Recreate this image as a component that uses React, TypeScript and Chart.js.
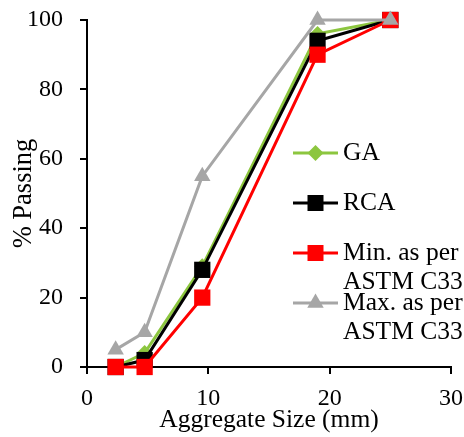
import React, { useEffect, useRef } from "react";
import { Chart, registerables } from "chart.js";

Chart.register(...registerables);

const sieveSizes = [2.36, 4.75, 9.5, 19, 25];
const gaValues = [0, 4, 29, 96, 100];
const rcaValues = [0, 2, 28, 94, 100];
const minValues = [0, 0, 20, 90, 100];
const maxValues = [5, 10, 55, 100, 100];
const seriesNames = ["GA", "RCA", "Min. as per\nASTM C33", "Max. as per\nASTM C33"];

const FONT = "'Liberation Serif', 'Times New Roman', serif";
const GREEN = "#8CC63F";
const GRAY = "#A6A6A6";

function toXY(values: number[]) {
  return sieveSizes.map((x, i) => ({ x, y: values[i] }));
}

function drawMarker(ctx: CanvasRenderingContext2D, style: string, x: number, y: number, color: string) {
  ctx.fillStyle = color;
  ctx.beginPath();
  if (style === "rectRot") {
    const r = 8;
    ctx.moveTo(x, y - r);
    ctx.lineTo(x + r, y);
    ctx.lineTo(x, y + r);
    ctx.lineTo(x - r, y);
    ctx.closePath();
  } else if (style === "rect") {
    const s = 8;
    ctx.rect(x - s, y - s, 2 * s, 2 * s);
  } else {
    const r = 9.5;
    ctx.moveTo(x, y - r);
    ctx.lineTo(x + r * 0.866, y + r / 2);
    ctx.lineTo(x - r * 0.866, y + r / 2);
    ctx.closePath();
  }
  ctx.fill();
}

const legendPlugin = {
  id: "customLegend",
  afterDraw(chart: any) {
    const ctx: CanvasRenderingContext2D = chart.ctx;
    const items = [
      { y: 153, color: GREEN, style: "rectRot", lineGap: 29 },
      { y: 203, color: "#000000", style: "rect", lineGap: 29 },
      { y: 253, color: "#FF0000", style: "rect", lineGap: 29 },
      { y: 303, color: GRAY, style: "triangle", lineGap: 29 },
    ];
    ctx.save();
    items.forEach((it, i) => {
      ctx.strokeStyle = it.color;
      ctx.lineWidth = 3;
      ctx.beginPath();
      ctx.moveTo(293, it.y);
      ctx.lineTo(338, it.y);
      ctx.stroke();
      drawMarker(ctx, it.style, 315.5, it.y, it.color);
      ctx.fillStyle = "#000000";
      ctx.font = `25.5px ${FONT}`;
      ctx.textAlign = "left";
      ctx.textBaseline = "middle";
      seriesNames[i].split("\n").forEach((line, j) => {
        ctx.fillText(line, 343, it.y + j * it.lineGap);
      });
    });
    ctx.restore();
  },
};

export default function App() {
  const canvasRef = useRef<HTMLCanvasElement | null>(null);

  useEffect(() => {
    if (!canvasRef.current) return;
    const mk = (label: string, values: number[], color: string, style: string, radius: number, order: number) => ({
      label,
      data: toXY(values),
      borderColor: color,
      backgroundColor: color,
      pointBackgroundColor: color,
      pointBorderColor: color,
      pointBorderWidth: 0,
      pointStyle: style,
      pointRadius: radius,
      borderWidth: 3,
      tension: 0,
      fill: false,
      clip: false,
      order,
    });
    const chart = new Chart(canvasRef.current, {
      type: "line",
      data: {
        datasets: [
          mk("GA", gaValues, GREEN, "rectRot", 8, 4),
          mk("RCA", rcaValues, "#000000", "rect", 11.5, 3),
          mk("Min. as per ASTM C33", minValues, "#FF0000", "rect", 11.5, 2),
          mk("Max. as per ASTM C33", maxValues, GRAY, "triangle", 9.5, 1),
        ] as any,
      },
      options: {
        animation: false,
        responsive: false,
        maintainAspectRatio: false,
        layout: { padding: { top: 20, right: 13, bottom: 0, left: 0 } },
        plugins: { legend: { display: false }, tooltip: { enabled: false } },
        scales: {
          x: {
            type: "linear",
            min: 0,
            max: 30,
            ticks: { stepSize: 10, color: "#000", font: { family: FONT, size: 24 }, padding: 10, maxRotation: 0 },
            grid: { drawOnChartArea: false, drawTicks: true, tickLength: 7, color: "#000", lineWidth: 2 },
            border: { display: true, color: "#000", width: 2 },
            title: { display: true, text: "Aggregate Size (mm)", color: "#000", font: { family: FONT, size: 25.5 }, padding: { top: 0, bottom: 1 } },
            afterFit: (s: any) => { s.height = 70; s.paddingLeft = 0; s.paddingRight = 0; },
          },
          y: {
            type: "linear",
            min: 0,
            max: 100,
            ticks: { stepSize: 20, color: "#000", font: { family: FONT, size: 24 }, padding: 17 },
            grid: { drawOnChartArea: false, drawTicks: true, tickLength: 7, color: "#000", lineWidth: 2 },
            border: { display: true, color: "#000", width: 2 },
            title: { display: true, text: "% Passing", color: "#000", font: { family: FONT, size: 26.5 }, padding: { top: 8, bottom: 0 } },
            afterFit: (s: any) => { s.width = 87; s.paddingTop = 0; s.paddingBottom = 0; },
          },
        },
      } as any,
      plugins: [legendPlugin],
    });
    return () => chart.destroy();
  }, []);

  return (
    <div style={{ position: "fixed", left: 0, top: 0, width: 464, height: 437, background: "#fff" }}>
      <canvas ref={canvasRef} width={464} height={437} style={{ width: 464, height: 437, display: "block" }} />
    </div>
  );
}
